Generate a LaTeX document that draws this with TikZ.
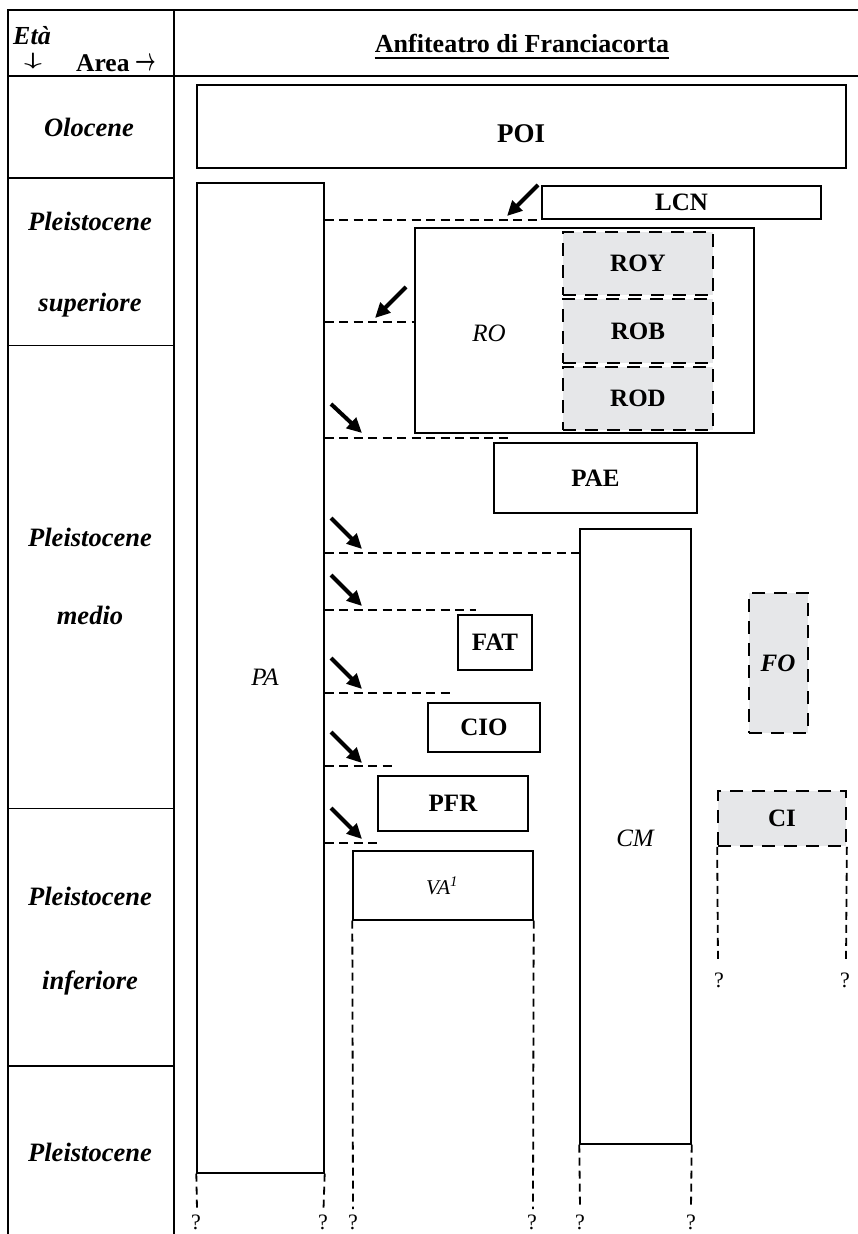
\documentclass[tikz,border=0pt]{standalone}
\usepackage{fontspec}
\setmainfont{Liberation Serif}
\usetikzlibrary{arrows.meta}
\definecolor{boxgrey}{RGB}{230,231,233}
\begin{document}
\begin{tikzpicture}[x=1pt,y=-1pt,
  tline/.style={line width=2pt},
  thinline/.style={line width=0.9pt},
  box/.style={draw, line width=1.4pt, rectangle, inner sep=0pt, fill=white},
  gbox/.style={draw, line width=1.7pt, rectangle, inner sep=0pt, fill=boxgrey, dash pattern=on 13pt off 9pt},
  hdash/.style={line width=2pt, dash pattern=on 9pt off 5.5pt},
  vdash/.style={line width=1.8pt, dash pattern=on 8pt off 5pt},
  bigarrow/.style={line width=4pt, -{Triangle[length=15pt,width=14pt]}},
  lbl/.style={font=\fontsize{25}{28}\selectfont\bfseries},
  ilbl/.style={inner sep=0pt, font=\fontsize{25}{28}\selectfont\itshape},
  rowlbl/.style={inner sep=0pt, anchor=base, font=\fontsize{26.5}{30}\selectfont\bfseries\itshape},
  qm/.style={inner sep=0pt, font=\fontsize{22}{26}\selectfont}
]
\useasboundingbox (0,0) rectangle (858,1234);

% ---- table grid ----
\draw[tline] (8,1234) -- (8,10) -- (858,10);
\draw[tline] (8,76) -- (858,76);
\draw[tline] (174,10) -- (174,1234);
\draw[tline] (8,178) -- (174,178);
\draw[thinline] (8,345) -- (174,345);
\draw[thinline] (8,808) -- (174,808);
\draw[tline] (8,1066) -- (174,1066);

% ---- header ----
\node[inner sep=0pt, anchor=base west, font=\fontsize{26}{30}\selectfont\bfseries\itshape] (eta) at (13,44) {Età};
\node[inner sep=0pt, font=\fontsize{26}{30}\selectfont] (darr) at (33,61) {\scalebox{1.25}[0.72]{\boldmath$\downarrow$}};
\node[inner sep=0pt, anchor=base west, font=\fontsize{25.5}{30}\selectfont\bfseries] (area) at (76,71) {Area};
\node[inner sep=0pt, font=\fontsize{24}{28}\selectfont] (rarr) at (146,64) {\scalebox{0.72}[1.3]{\boldmath$\rightarrow$}};
\node[inner sep=0pt, anchor=base, font=\fontsize{26}{30}\selectfont\bfseries] (title) at (522,52)
  {Anfiteatro di Franciacorta};
\draw[line width=1.6pt] ([yshift=-6pt]title.base west) -- ([yshift=-6pt]title.base east);

% ---- row labels ----
\node[rowlbl] (r1) at (89,136) {Olocene};
\node[rowlbl] (r2a) at (90,230) {Pleistocene};
\node[rowlbl] (r2b) at (90,311) {superiore};
\node[rowlbl] (r3a) at (90,546) {Pleistocene};
\node[rowlbl] (r3b) at (90,624) {medio};
\node[rowlbl] (r4a) at (90,905) {Pleistocene};
\node[rowlbl] (r4b) at (90,989) {inferiore};
\node[rowlbl] (r5) at (90,1161) {Pleistocene};

% ---- boxes ----
\node[box, minimum width=649pt, minimum height=83pt] (POI) at (521.5,126.5) {};
\node[lbl, inner sep=0pt, font=\fontsize{27}{30}\selectfont\bfseries] (POIt) at (521,134) {POI};
\node[box, minimum width=127pt, minimum height=990pt] (PA) at (260.5,678) {};
\node[ilbl] (PAt) at (265,677) {PA};
\node[box, lbl, minimum width=279pt, minimum height=33pt] (LCN) at (681.5,202.5) {LCN};
\node[box, minimum width=339pt, minimum height=205pt] (RO) at (584.5,330.5) {};
\node[ilbl] (ROt) at (489,333) {RO};
\node[gbox, lbl, minimum width=150pt, minimum height=63pt] (ROY) at (638,263.5) {ROY};
\node[gbox, lbl, minimum width=150pt, minimum height=64pt] (ROB) at (638,331) {ROB};
\node[gbox, lbl, minimum width=150pt, minimum height=63pt] (ROD) at (638,398.5) {ROD};
\node[box, lbl, minimum width=203pt, minimum height=70pt] (PAE) at (595.5,478) {PAE};
\node[box, minimum width=111pt, minimum height=615pt] (CM) at (635.5,836.5) {};
\node[ilbl] (CMt) at (635,838) {CM};
\node[box, lbl, minimum width=74pt, minimum height=55pt] (FAT) at (495,642.5) {FAT};
\node[gbox, minimum width=59pt, minimum height=140pt] (FO) at (778.5,663) {};
\node[inner sep=0pt, font=\fontsize{25}{28}\selectfont\bfseries\itshape] (FOt) at (778,663) {FO};
\node[box, lbl, minimum width=112pt, minimum height=49pt] (CIO) at (484,727.5) {CIO};
\node[box, lbl, minimum width=150pt, minimum height=55pt] (PFR) at (453,803.5) {PFR};
\node[box, minimum width=180pt, minimum height=69pt] (VA) at (443,885.5) {};
\node[inner sep=0pt, font=\fontsize{21}{24}\selectfont\itshape] (VAt) at (442,886) {VA\textsuperscript{1}};
\node[gbox, lbl, minimum width=128pt, minimum height=55pt] (CI) at (782,818.5) {CI};

% ---- dashed horizontal links from PA ----
\coordinate (d2e) at (415,322);
\coordinate (d3e) at (513,438);
\coordinate (d4e) at (580,553);
\coordinate (d5e) at (476,610);
\coordinate (d6e) at (454,693);
\coordinate (d7e) at (393,766);
\coordinate (d8e) at (378,843);
\draw[hdash] (PA.east |- LCN.south) -- (LCN.south west);
\draw[hdash] (PA.east |- d2e) -- (d2e);
\draw[hdash] (PA.east |- d3e) -- (d3e);
\draw[hdash] (PA.east |- d4e) -- (d4e);
\draw[hdash] (PA.east |- d5e) -- (d5e);
\draw[hdash] (PA.east |- d6e) -- (d6e);
\draw[hdash] (PA.east |- d7e) -- (d7e);
\draw[hdash] (PA.east |- d8e) -- (d8e);

% ---- arrows ----
\coordinate (a1s) at (538,185); \coordinate (a1e) at (507,216);
\coordinate (a2s) at (406,287); \coordinate (a2e) at (375,318);
\coordinate (a3s) at (331,404); \coordinate (a3e) at (362,433);
\coordinate (a4s) at (331,518); \coordinate (a4e) at (362,549);
\coordinate (a5s) at (331,575); \coordinate (a5e) at (362,606);
\coordinate (a6s) at (331,658); \coordinate (a6e) at (362,689);
\coordinate (a7s) at (331,732); \coordinate (a7e) at (362,763);
\coordinate (a8s) at (331,808); \coordinate (a8e) at (362,839);
\draw[bigarrow] (a1s) -- (a1e);
\draw[bigarrow] (a2s) -- (a2e);
\draw[bigarrow] (a3s) -- (a3e);
\draw[bigarrow] (a4s) -- (a4e);
\draw[bigarrow] (a5s) -- (a5e);
\draw[bigarrow] (a6s) -- (a6e);
\draw[bigarrow] (a7s) -- (a7e);
\draw[bigarrow] (a8s) -- (a8e);

% ---- vertical dashed continuations ----
\coordinate (v1) at (197,1209); \coordinate (v2) at (323.5,1209);
\coordinate (v3) at (353,1209); \coordinate (v4) at (533,1209);
\coordinate (v5) at (580,1209); \coordinate (v6) at (691,1209);
\coordinate (v7) at (718,962); \coordinate (v8) at (846,962);
\draw[vdash] (PA.south west) -- (v1);
\draw[vdash] (PA.south east) -- (v2);
\draw[vdash] (VA.south west) -- (v3);
\draw[vdash] (VA.south east) -- (v4);
\draw[vdash] (CM.south west) -- (v5);
\draw[vdash] (CM.south east) -- (v6);
\draw[vdash] (CI.south west) -- (v7);
\draw[vdash] (CI.south east) -- (v8);

% ---- question marks ----
\node[qm] (q1) at (196,1222) {?};
\node[qm] (q2) at (323,1222) {?};
\node[qm] (q3) at (353,1222) {?};
\node[qm] (q4) at (532,1222) {?};
\node[qm] (q5) at (580,1222) {?};
\node[qm] (q6) at (691,1222) {?};
\node[qm] (q7) at (719,980) {?};
\node[qm] (q8) at (845,980) {?};
\end{tikzpicture}
\end{document}
